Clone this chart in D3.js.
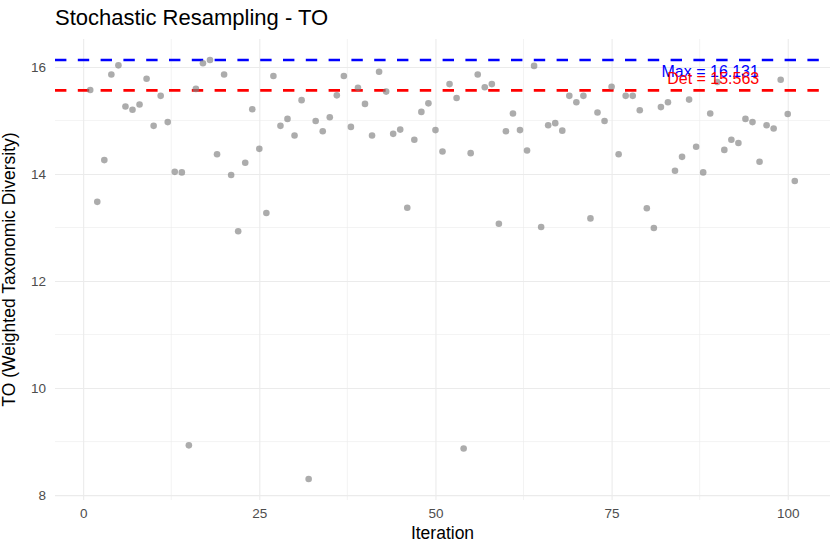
<!DOCTYPE html>
<html>
<head>
<meta charset="utf-8">
<script src="https://cdn.jsdelivr.net/npm/d3@7"></script>
<style>
  html, body { margin: 0; padding: 0; background: #fff; }
  svg { display: block; font-family: "Liberation Sans", Arial, Helvetica, sans-serif; }
</style>
</head>
<body>
<svg id="chart" width="840" height="552"></svg>
<script>
// ---- data ----
const iterations = d3.range(1, 102);
const toValues = [
  15.57, 13.48, 14.26, 15.86, 16.03, 15.26, 15.20, 15.30, 15.78, 14.90,
  15.46, 14.97, 14.04, 14.03, 8.93, 15.59, 16.07, 16.131, 14.37, 15.86,
  13.98, 12.93, 14.21, 15.21, 14.47, 13.27, 15.83, 14.90, 15.03, 14.72,
  15.38, 8.30, 14.99, 14.80, 15.06, 15.47, 15.83, 14.88, 15.61, 15.31,
  14.72, 15.91, 15.54, 14.75, 14.83, 13.37, 14.64, 15.16, 15.32, 14.82,
  14.42, 15.68, 15.42, 8.87, 14.39, 15.86, 15.62, 15.68, 13.07, 14.80,
  15.13, 14.82, 14.44, 16.02, 13.01, 14.91, 14.95, 14.81, 15.46, 15.34,
  15.46, 13.17, 15.15, 14.99, 15.63, 14.37, 15.46, 15.46, 15.19, 13.36,
  12.99, 15.25, 15.34, 14.06, 14.32, 15.39, 14.51, 14.03, 15.13, 15.72,
  14.45, 14.64, 14.58, 15.03, 14.97, 14.23, 14.91, 14.85, 15.76, 15.12,
  13.87
];
const maxValue = 16.131;
const detValue = 15.563;
const xTicks = [0, 25, 50, 75, 100];
const xMinorTicks = [12.5, 37.5, 62.5, 87.5];
const yTicks = [8, 10, 12, 14, 16];
const yMinorTicks = [9, 11, 13, 15];
const labelIteration = 89;

const points = iterations.map((it, i) => ({ x: it, y: toValues[i] }));

// ---- layout ----
const svg = d3.select("#chart");
const panel = { left: 55, right: 830, top: 39, bottom: 500 };

const xMin = d3.min(iterations), xMax = d3.max(iterations);
const xPad = (xMax - xMin) * 0.05;
const x = d3.scaleLinear().domain([xMin - xPad, xMax + xPad]).range([panel.left, panel.right]);

const yLo = Math.min(d3.min(toValues), detValue), yHi = Math.max(d3.max(toValues), maxValue);
const yPad = (yHi - yLo) * 0.05;
const y = d3.scaleLinear().domain([yLo - yPad, yHi + yPad]).range([panel.bottom, panel.top]);

const grid = svg.append("g");
// minor grid
grid.selectAll(".xmin").data(xMinorTicks).join("line")
  .attr("x1", d => x(d)).attr("x2", d => x(d))
  .attr("y1", panel.top).attr("y2", panel.bottom)
  .attr("stroke", "#ebebeb").attr("stroke-width", 0.6);
grid.selectAll(".ymin").data(yMinorTicks).join("line")
  .attr("x1", panel.left).attr("x2", panel.right)
  .attr("y1", d => y(d)).attr("y2", d => y(d))
  .attr("stroke", "#ebebeb").attr("stroke-width", 0.6);

// major grid via axes
const xAxis = d3.axisBottom(x).tickValues(xTicks).tickSize(-(panel.bottom - panel.top)).tickPadding(8).tickFormat(d3.format("d"));
const gx = svg.append("g").attr("transform", `translate(0,${panel.bottom})`).call(xAxis);
gx.select(".domain").remove();
gx.selectAll(".tick line").attr("stroke", "#ebebeb").attr("stroke-width", 1.1);
gx.selectAll(".tick text").attr("fill", "#4d4d4d").attr("font-size", 13.5)
  .attr("font-family", "'Liberation Sans', Arial, sans-serif").attr("dy", "0.71em");

const yAxis = d3.axisLeft(y).tickValues(yTicks).tickSize(-(panel.right - panel.left)).tickPadding(9).tickFormat(d3.format("d"));
const gy = svg.append("g").attr("transform", `translate(${panel.left},0)`).call(yAxis);
gy.select(".domain").remove();
gy.selectAll(".tick line").attr("stroke", "#ebebeb").attr("stroke-width", 1.1);
gy.selectAll(".tick text").attr("fill", "#4d4d4d").attr("font-size", 13.5)
  .attr("font-family", "'Liberation Sans', Arial, sans-serif");

// reference lines
const refLines = [
  { v: maxValue, color: "#0000ff" },
  { v: detValue, color: "#ff0000" }
];
svg.selectAll(".ref").data(refLines).join("line")
  .attr("x1", panel.left).attr("x2", panel.right)
  .attr("y1", d => y(d.v)).attr("y2", d => y(d.v))
  .attr("stroke", d => d.color).attr("stroke-width", 2.6)
  .attr("stroke-dasharray", "11.4,11.4");

// points
svg.append("g").selectAll("circle").data(points).join("circle")
  .attr("cx", d => x(d.x)).attr("cy", d => y(d.y)).attr("r", 3.3)
  .attr("fill", "#7f7f7f").attr("fill-opacity", 0.65);

// annotations
svg.append("text").attr("x", x(labelIteration)).attr("y", y(maxValue) + 17.5)
  .attr("text-anchor", "middle").attr("font-size", 16).attr("fill", "#0000ff")
  .text(`Max = ${maxValue.toFixed(3)}`);
svg.append("text").attr("x", x(labelIteration) + 3).attr("y", y(detValue) - 6)
  .attr("text-anchor", "middle").attr("font-size", 16).attr("fill", "#ff0000")
  .text(`Det = ${detValue.toFixed(3)}`);

// titles
svg.append("text").attr("x", 55).attr("y", 25).attr("font-size", 22).attr("fill", "#000")
  .text("Stochastic Resampling - TO");
svg.append("text").attr("x", (panel.left + panel.right) / 2).attr("y", 539)
  .attr("text-anchor", "middle").attr("font-size", 17.5).attr("fill", "#000")
  .text("Iteration");
svg.append("text").attr("transform", `translate(15,${(panel.top + panel.bottom) / 2}) rotate(-90)`)
  .attr("text-anchor", "middle").attr("font-size", 17.5).attr("fill", "#000")
  .text("TO (Weighted Taxonomic Diversity)");
</script>
</body>
</html>
